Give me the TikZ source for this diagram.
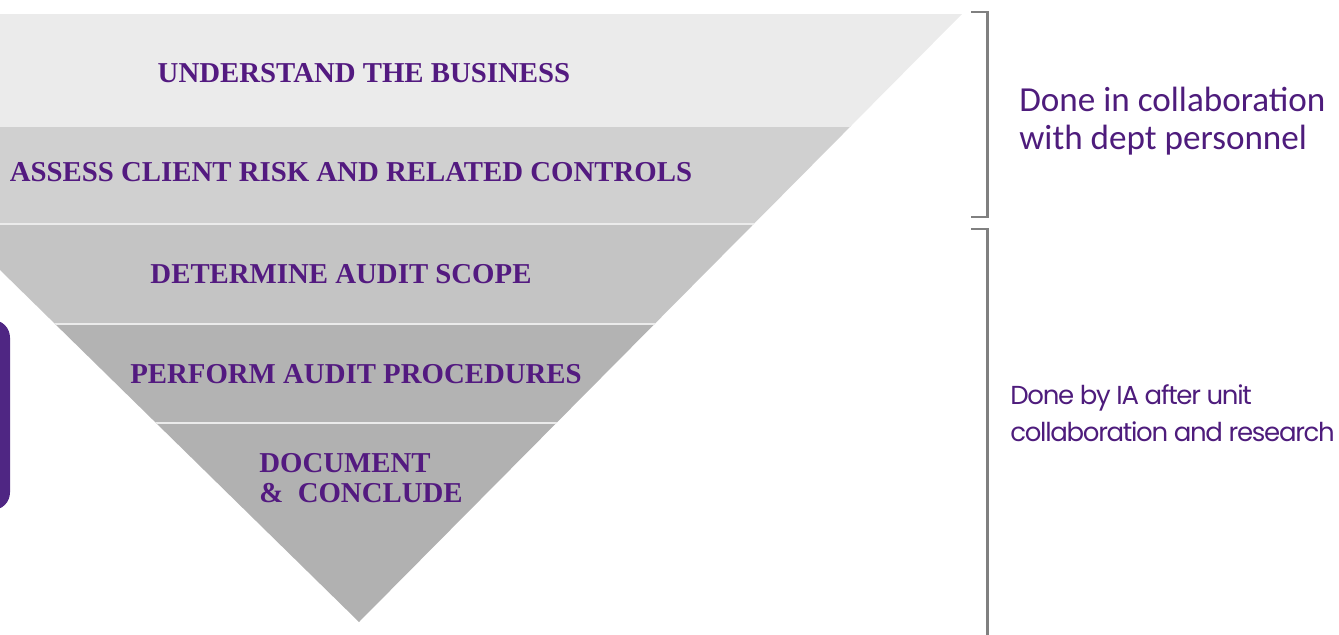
\documentclass[tikz,border=0pt]{standalone}
\usepackage{fontspec}
\setmainfont{Liberation Serif}
\newfontfamily\collabfont{Carlito}
\newfontfamily\iafont[LetterSpace=-5]{Poppins}
\definecolor{stagepurple}{HTML}{531A80}
\definecolor{notepurple}{HTML}{4E1C7C}
\definecolor{boxpurple}{HTML}{4F2683}
\definecolor{bandA}{HTML}{EBEBEB}
\definecolor{bandB}{HTML}{D0D0D0}
\definecolor{bandC}{HTML}{C4C4C4}
\definecolor{bandD}{HTML}{B3B3B3}
\definecolor{bandE}{HTML}{B1B1B1}
\tikzstyle{stage}=[font=\fontsize{16.4}{17.5}\selectfont\bfseries,text=stagepurple,inner sep=0pt]
\tikzstyle{note}=[text=notepurple,inner sep=0pt,anchor=west,align=left]
\tikzstyle{divider}=[draw=white!92!black,line width=1.2pt]
\tikzstyle{bracket}=[draw=black!50,line width=1.7pt]

\begin{document}
\begin{tikzpicture}[x=0.02cm,y=-0.02cm]
    \useasboundingbox (0,0) rectangle (1339,635);
    \clip (0,0) rectangle (1339,635);
    \begin{scope}
        \clip (-261,14) -- (962,14) -- (359,622) -- cycle;
        \fill[bandA] (-300,14) rectangle (1000,126);
        \fill[bandB] (-300,126) rectangle (1000,224);
        \fill[bandC] (-300,224) rectangle (1000,324);
        \fill[bandD] (-300,324) rectangle (1000,423);
        \fill[bandE] (-300,423) rectangle (1000,640);
        \path[divider] (-300,126) -- (1000,126);
        \path[divider] (-300,224) -- (1000,224);
        \path[divider] (-300,324) -- (1000,324);
        \path[divider] (-300,423) -- (1000,423);
    \end{scope}
    \node[stage] (understand) at (364,73) {UNDERSTAND THE BUSINESS};
    \node[stage] (assess) at (351,172) {ASSESS CLIENT RISK AND RELATED CONTROLS};
    \node[stage] (scope) at (341,274) {DETERMINE AUDIT SCOPE};
    \node[stage] (perform) at (356,374) {PERFORM AUDIT PROCEDURES};
    \node[stage,anchor=west,align=left] (conclude) at (259,478) {DOCUMENT\\\&~~CONCLUDE};
    \fill[boxpurple,rounded corners=10] (-40,320) rectangle (10,510);
    \path[bracket] (971,12) -- (987,12) -- (987,217) -- (971,217);
    \path[bracket] (971,229) -- (987,229) -- (987,645);
    \node[note,font=\collabfont\fontsize{20}{21.6}\selectfont] (collab) at (1019,121) {Done in collaboration\\with dept personnel};
    \node[note,font=\iafont\fontsize{14.8}{21}\selectfont] (ia) at (1010,413) {Done by IA after unit\\collaboration and research};
\end{tikzpicture}
\end{document}
